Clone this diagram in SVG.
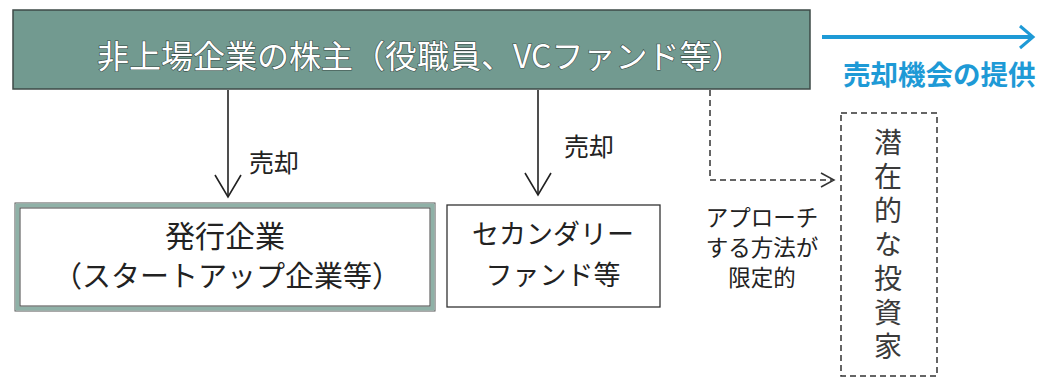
<svg xmlns="http://www.w3.org/2000/svg" width="1037" height="381" viewBox="0 0 1037 381">
  <style>
    .jp { font-family: "Noto Sans CJK JP", "Noto Sans", sans-serif; }
    .dark { fill: #222; }
    .head { fill: #fff; stroke: #3a4a46; stroke-width: 1.2; paint-order: stroke; }
    .blue { fill: #1e9ad6; font-weight: bold; }
    .solid { fill: none; stroke: #222; stroke-width: 1.6; }
    .dash { fill: none; stroke: #333; stroke-width: 1.5; stroke-dasharray: 6 4; }
    .vert { fill: #3a3a3a; }
  </style>
  <rect width="1037" height="381" fill="#fff"/>

  <g id="shareholders">
    <rect x="13" y="10" width="797" height="79" fill="#729a90" stroke="#3e4a47" stroke-width="1.5"/>
    <text class="jp head" x="97" y="68" font-size="32">非上場企業の株主（役職員、VCファンド等）</text>
  </g>

  <g id="issuer">
    <rect x="15" y="203" width="420" height="108" fill="none" stroke="#555" stroke-width="1"/>
    <rect x="17.5" y="205.5" width="415" height="103" fill="none" stroke="#8fb1a7" stroke-width="4"/>
    <rect x="20" y="208" width="410" height="98" fill="#fff" stroke="#444" stroke-width="1"/>
    <text class="jp dark" x="225" y="247" font-size="30" text-anchor="middle">発行企業</text>
    <text class="jp dark" x="227" y="287" font-size="29" text-anchor="middle">（スタートアップ企業等）</text>
  </g>

  <g id="secondary">
    <rect x="447" y="205" width="213" height="102" fill="#fff" stroke="#333" stroke-width="1.3"/>
    <text class="jp dark" x="553" y="244" font-size="27" text-anchor="middle">セカンダリー</text>
    <text class="jp dark" x="553" y="285" font-size="27" text-anchor="middle">ファンド等</text>
  </g>

  <g id="investors">
    <rect x="841" y="113" width="96" height="263" fill="none" stroke="#333" stroke-width="1.5" stroke-dasharray="6 4"/>
    <text class="jp vert" x="888" y="128" font-size="28" writing-mode="vertical-rl" letter-spacing="6">潜在的な投資家</text>
  </g>

  <g id="connectors">
    <line class="solid" x1="228" y1="90" x2="228" y2="196"/>
    <polyline class="solid" points="215,175 228,197 241,175"/>
    <line class="solid" x1="538" y1="90" x2="538" y2="194"/>
    <polyline class="solid" points="525,173 538,195 551,173"/>
    <path class="dash" d="M710 90 V180 H832"/>
    <polyline fill="none" stroke="#333" stroke-width="1.5" points="821,173 834,180 821,187"/>
    <line x1="822" y1="37" x2="1031" y2="37" stroke="#1e9ad6" stroke-width="4"/>
    <polyline fill="none" stroke="#1e9ad6" stroke-width="3" points="1020,26 1033,37 1020,48"/>
  </g>

  <g id="labels">
    <text class="jp dark" x="249" y="172" font-size="25">売却</text>
    <text class="jp dark" x="564" y="156" font-size="25">売却</text>
    <text class="jp dark" x="762" y="226" font-size="22.5" text-anchor="middle">アプローチ</text>
    <text class="jp dark" x="762" y="256" font-size="22.5" text-anchor="middle">する方法が</text>
    <text class="jp dark" x="762" y="286" font-size="22.5" text-anchor="middle">限定的</text>
    <text class="jp blue" x="843" y="85" font-size="27.5">売却機会の提供</text>
  </g>
</svg>
